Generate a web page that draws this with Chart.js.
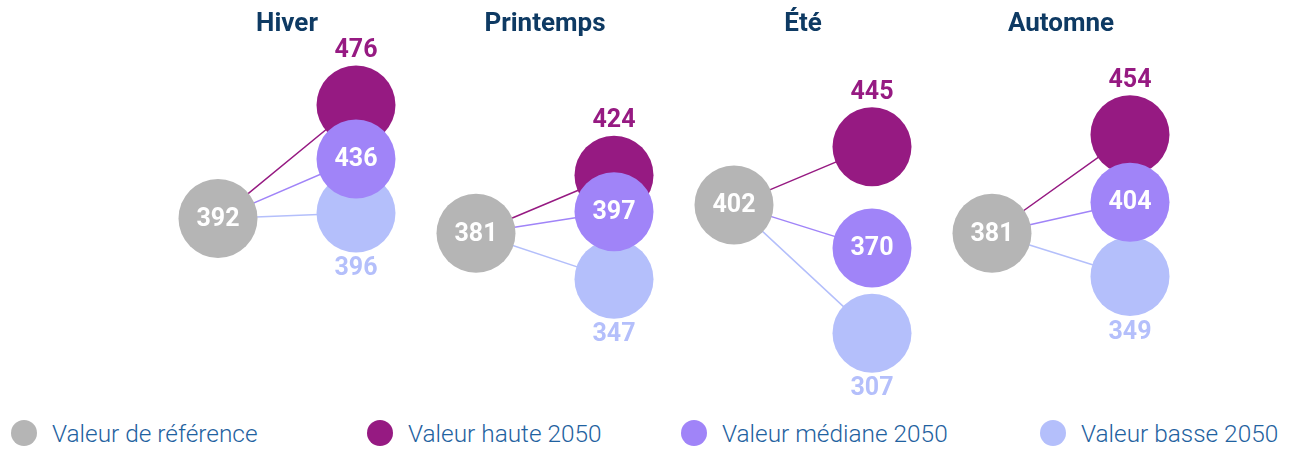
<!DOCTYPE html>
<html>
<head>
<meta charset="utf-8">
<script src="https://cdn.jsdelivr.net/npm/chart.js@4"></script>
<style>
  html, body { margin: 0; padding: 0; background: #ffffff; }
  #wrap { position: relative; width: 1291px; height: 450px; overflow: hidden; }
  #chart { position: absolute; left: 0; top: 0; }
  #legend { position: absolute; left: 0; top: 413px; width: 1291px; height: 40px; font-family: Roboto, sans-serif; }
  .item { position: absolute; top: 0; height: 40px; display: flex; align-items: center; white-space: nowrap; }
  .dot { width: 26px; height: 26px; border-radius: 50%; margin-right: 15px; }
  .lbl { font-size: 24.4px; font-weight: 300; color: #1f62a0; }
</style>
</head>
<body>
<div id="wrap">
  <canvas id="chart" width="1291" height="410"></canvas>
  <div id="legend"></div>
</div>
<script>
// ---- Data ----
const categories = ['Hiver', 'Printemps', 'Été', 'Automne'];
const reference = [392, 381, 402, 381];
const haute = [476, 424, 445, 454];
const mediane = [436, 397, 370, 404];
const basse = [396, 347, 307, 349];
const seriesNames = ['Valeur de référence', 'Valeur haute 2050', 'Valeur médiane 2050', 'Valeur basse 2050'];

// ---- Style ----
const colors = {
  ref: '#b5b5b5',
  haute: '#961a82',
  mediane: '#a084f8',
  basse: '#b4bffb'
};
const titleColor = '#0e3a63';
const panelStep = 258 / 138;   // panel spacing in x units (1 unit = ref -> value distance)
const radius = 39.5;

function refPoints() { return reference.map((v, i) => ({ x: i * panelStep, y: v })); }
function valPoints(arr) { return arr.map((v, i) => ({ x: i * panelStep + 1, y: v })); }
function linkPoints(arr) {
  const pts = [];
  arr.forEach((v, i) => {
    pts.push({ x: i * panelStep, y: reference[i] });
    pts.push({ x: i * panelStep + 1, y: v });
    pts.push({ x: i * panelStep + 1.2, y: null });
  });
  return pts;
}

function circleDs(label, data, color, order, labelPos, labelColor) {
  return {
    type: 'scatter', label, data, order,
    backgroundColor: color, borderColor: color, borderWidth: 0,
    pointRadius: radius, pointHoverRadius: radius,
    labelPos, labelColor
  };
}
function lineDs(data, color) {
  return {
    type: 'line', data, order: 10, isLink: true,
    borderColor: color, borderWidth: 1.5, pointRadius: 0, pointHoverRadius: 0,
    spanGaps: false, fill: false, tension: 0
  };
}

const labelPlugin = {
  id: 'circleLabels',
  afterDatasetsDraw(chart) {
    const ctx = chart.ctx;
    ctx.save();
    ctx.font = 'bold 25px Roboto, sans-serif';
    ctx.textAlign = 'center';
    ctx.textBaseline = 'middle';
    chart.data.datasets.forEach((ds, di) => {
      if (ds.isLink) return;
      const meta = chart.getDatasetMeta(di);
      meta.data.forEach((el, i) => {
        const v = ds.data[i].y;
        let dy = 0;
        if (ds.labelPos === 'above') dy = -55;
        if (ds.labelPos === 'below') dy = 55;
        ctx.fillStyle = ds.labelColor;
        ctx.fillText(String(v), el.x, el.y + dy + 1);
      });
    });
    ctx.restore();
  }
};

const yMax = 476 + 65 / 1.35;
const yMin = yMax - 370 / 1.35;

new Chart(document.getElementById('chart'), {
  data: {
    datasets: [
      lineDs(linkPoints(haute), colors.haute),
      lineDs(linkPoints(mediane), colors.mediane),
      lineDs(linkPoints(basse), colors.basse),
      circleDs(seriesNames[0], refPoints(), colors.ref, 3, 'inside', '#ffffff'),
      circleDs(seriesNames[1], valPoints(haute), colors.haute, 2, 'above', colors.haute),
      circleDs(seriesNames[3], valPoints(basse), colors.basse, 1, 'below', colors.basse),
      circleDs(seriesNames[2], valPoints(mediane), colors.mediane, 0, 'inside', '#ffffff')
    ]
  },
  options: {
    responsive: false,
    animation: false,
    events: [],
    layout: { padding: 0, autoPadding: false },
    plugins: { legend: { display: false }, tooltip: { enabled: false } },
    scales: {
      x: {
        type: 'linear', position: 'top',
        min: -218 / 138, max: (1291 - 218) / 138,
        grid: { display: false, drawTicks: false },
        border: { display: false },
        afterBuildTicks(scale) {
          scale.ticks = categories.map((c, i) => ({ value: i * panelStep + 0.5 }));
        },
        afterFit(scale) { scale.height = 40; },
        ticks: {
          padding: 0,
          autoSkip: false,
          maxRotation: 0,
          color: titleColor,
          font: { family: 'Roboto, sans-serif', size: 26, weight: 'bold' },
          callback(value, index) { return categories[index]; }
        }
      },
      y: {
        type: 'linear', display: false,
        min: yMin, max: yMax
      }
    }
  },
  plugins: [labelPlugin]
});

// ---- HTML legend ----
const legendColors = [colors.ref, colors.haute, colors.mediane, colors.basse];
const legendLeft = [11, 367, 681, 1040];
const legend = document.getElementById('legend');
seriesNames.forEach((name, i) => {
  const it = document.createElement('div');
  it.className = 'item';
  it.style.left = legendLeft[i] + 'px';
  const d = document.createElement('span');
  d.className = 'dot';
  d.style.background = legendColors[i];
  const t = document.createElement('span');
  t.className = 'lbl';
  t.textContent = name;
  it.appendChild(d); it.appendChild(t);
  legend.appendChild(it);
});
</script>
</body>
</html>
